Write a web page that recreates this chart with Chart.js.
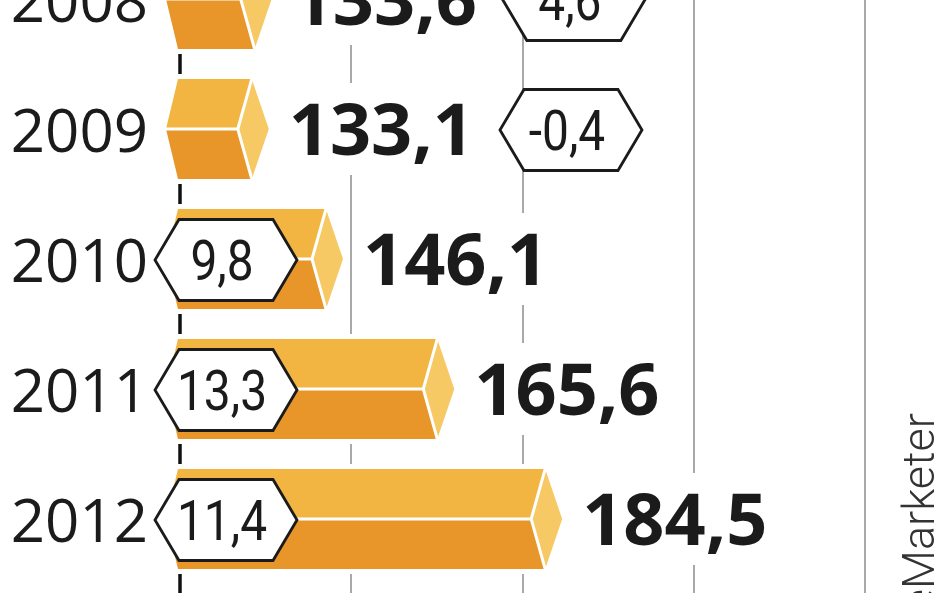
<!DOCTYPE html>
<html>
<head>
<meta charset="utf-8">
<script src="https://cdn.jsdelivr.net/npm/chart.js@4.4.1/dist/chart.umd.min.js"></script>
<style>
  html, body { margin: 0; padding: 0; background: #fff; overflow: hidden; }
  #wrap { position: relative; width: 948px; height: 593px; overflow: hidden; }
  #chart { position: absolute; left: 0; top: -80px; }
</style>
</head>
<body>
<div id="wrap"><canvas id="chart" width="948" height="700"></canvas></div>
<script>
// dane wykresu
const years = ['2008', '2009', '2010', '2011', '2012'];
const values = [133.6, 133.1, 146.1, 165.6, 184.5];
const changes = [4.6, -0.4, 9.8, 13.3, 11.4];
const gridTicks = [120, 150, 180, 210, 240];
const source = 'eMarketer';

const topColor = '#f2b541';
const bottomColor = '#e8952a';
const capColor = '#f6c965';
const textColor = '#1b1b1b';

function fmt(v) {
  return v.toFixed(1).replace('.', ',');
}

function hexPath(ctx, left, cy, w, h, p) {
  ctx.beginPath();
  ctx.moveTo(left, cy);
  ctx.lineTo(left + p, cy - h / 2);
  ctx.lineTo(left + w - p, cy - h / 2);
  ctx.lineTo(left + w, cy);
  ctx.lineTo(left + w - p, cy + h / 2);
  ctx.lineTo(left + p, cy + h / 2);
  ctx.closePath();
}

// linie siatki przez cala wysokosc
const gridPlugin = {
  id: 'gridLines',
  beforeDatasetsDraw(chart) {
    const ctx = chart.ctx;
    const x = chart.scales.x;
    ctx.save();
    gridTicks.forEach((v, i) => {
      const px = Math.round(x.getPixelForValue(v));
      ctx.beginPath();
      if (i === 0) {
        ctx.strokeStyle = '#111';
        ctx.lineWidth = 3.5;
      } else {
        ctx.strokeStyle = '#a9a9a9';
        ctx.lineWidth = 2;
      }
      ctx.moveTo(px, 0);
      ctx.lineTo(px, chart.height);
      ctx.stroke();
    });
    ctx.restore();
  }
};

// slupki 3D + etykiety
const barsPlugin = {
  id: 'bars3d',
  afterDatasetsDraw(chart) {
    const ctx = chart.ctx;
    const meta = chart.getDatasetMeta(0);
    const x0 = chart.scales.x.getPixelForValue(gridTicks[0]) - 2;
    meta.data.forEach((el, i) => {
      const X = el.x - 3, cy = el.y, h = el.height;
      const top = cy - h / 2, bot = cy + h / 2;
      const dl = 14, dr = 17, nl = 12;

      ctx.save();
      ctx.lineJoin = 'round';
      // bialy obrys
      ctx.beginPath();
      ctx.moveTo(x0, top);
      ctx.lineTo(X, top);
      ctx.lineTo(X + dr, cy);
      ctx.lineTo(X, bot);
      ctx.lineTo(x0, bot);
      ctx.lineTo(x0 - nl, cy);
      ctx.closePath();
      ctx.fillStyle = '#fff';
      ctx.strokeStyle = '#fff';
      ctx.lineWidth = 10;
      ctx.stroke();
      ctx.fill();

      // gorna sciana
      ctx.beginPath();
      ctx.moveTo(x0, top);
      ctx.lineTo(X, top);
      ctx.lineTo(X - dl, cy);
      ctx.lineTo(x0 - nl, cy);
      ctx.closePath();
      ctx.fillStyle = topColor;
      ctx.fill();

      // dolna sciana
      ctx.beginPath();
      ctx.moveTo(x0 - nl, cy);
      ctx.lineTo(X - dl, cy);
      ctx.lineTo(X, bot);
      ctx.lineTo(x0, bot);
      ctx.closePath();
      ctx.fillStyle = bottomColor;
      ctx.fill();

      // koncowka
      ctx.beginPath();
      ctx.moveTo(X, top);
      ctx.lineTo(X + dr, cy);
      ctx.lineTo(X, bot);
      ctx.lineTo(X - dl, cy);
      ctx.closePath();
      ctx.fillStyle = capColor;
      ctx.fill();

      // biale krawedzie
      ctx.beginPath();
      ctx.moveTo(x0 - nl, cy);
      ctx.lineTo(X - dl, cy);
      ctx.moveTo(X, top);
      ctx.lineTo(X - dl, cy);
      ctx.lineTo(X, bot);
      ctx.strokeStyle = '#fff';
      ctx.lineWidth = 3;
      ctx.stroke();

      // wartosc
      const valText = fmt(values[i]);
      ctx.font = 'bold 72px "Open Sans"';
      const vw = ctx.measureText(valText).width;
      const lx = X + dr + 20;
      ctx.fillStyle = '#fff';
      ctx.fillRect(lx - 6, cy - 46, vw + 12, 92);
      ctx.fillStyle = textColor;
      ctx.textAlign = 'left';
      ctx.textBaseline = 'alphabetic';
      ctx.fillText(valText, lx, cy + 0.357 * 72);

      // zmiana % w szesciokacie
      const hw = 142, hh = 81, hp = 24;
      const inside = X - x0 >= hw;
      const hl = inside ? x0 - 23 : lx + vw + 26;
      const hy = cy + 1;
      hexPath(ctx, hl, hy, hw, hh, hp);
      ctx.fillStyle = '#fff';
      ctx.fill();
      ctx.strokeStyle = textColor;
      ctx.lineWidth = 2.8;
      ctx.lineJoin = 'miter';
      ctx.stroke();

      ctx.translate(hl + hw / 2 - 4, hy + 0.355 * 55);
      ctx.scale(0.87, 1);
      ctx.font = '55px Roboto';
      ctx.textAlign = 'center';
      ctx.fillStyle = textColor;
      ctx.fillText(fmt(changes[i]), 0, 0);
      ctx.restore();
    });

    // zrodlo
    ctx.save();
    ctx.translate(934, 413 + 80);
    ctx.rotate(-Math.PI / 2);
    ctx.font = '300 45px Roboto';
    ctx.fillStyle = '#333';
    ctx.textAlign = 'right';
    ctx.textBaseline = 'alphabetic';
    ctx.fillText(source, 0, 0);
    ctx.restore();
  }
};

new Chart(document.getElementById('chart'), {
  type: 'bar',
  data: {
    labels: years,
    datasets: [{
      data: values,
      backgroundColor: 'rgba(0,0,0,0)',
      borderWidth: 0,
      barPercentage: 0.77,
      categoryPercentage: 1
    }]
  },
  options: {
    indexAxis: 'y',
    responsive: false,
    animation: false,
    devicePixelRatio: 1,
    layout: { padding: { top: 14, bottom: 36, left: 0, right: 83 } },
    plugins: {
      legend: { display: false },
      tooltip: { enabled: false }
    },
    scales: {
      x: {
        display: false,
        min: gridTicks[0],
        max: gridTicks[gridTicks.length - 1]
      },
      y: {
        grid: { display: false, drawTicks: false },
        border: { display: false },
        ticks: {
          font: { family: '"Open Sans", sans-serif', size: 60 },
          color: textColor,
          padding: 32,
          labelOffset: 6
        },
        afterFit: s => {
          s.width = 180;
          s.paddingTop = 0;
          s.paddingBottom = 0;
        }
      }
    }
  },
  plugins: [gridPlugin, barsPlugin]
});
</script>
</body>
</html>
